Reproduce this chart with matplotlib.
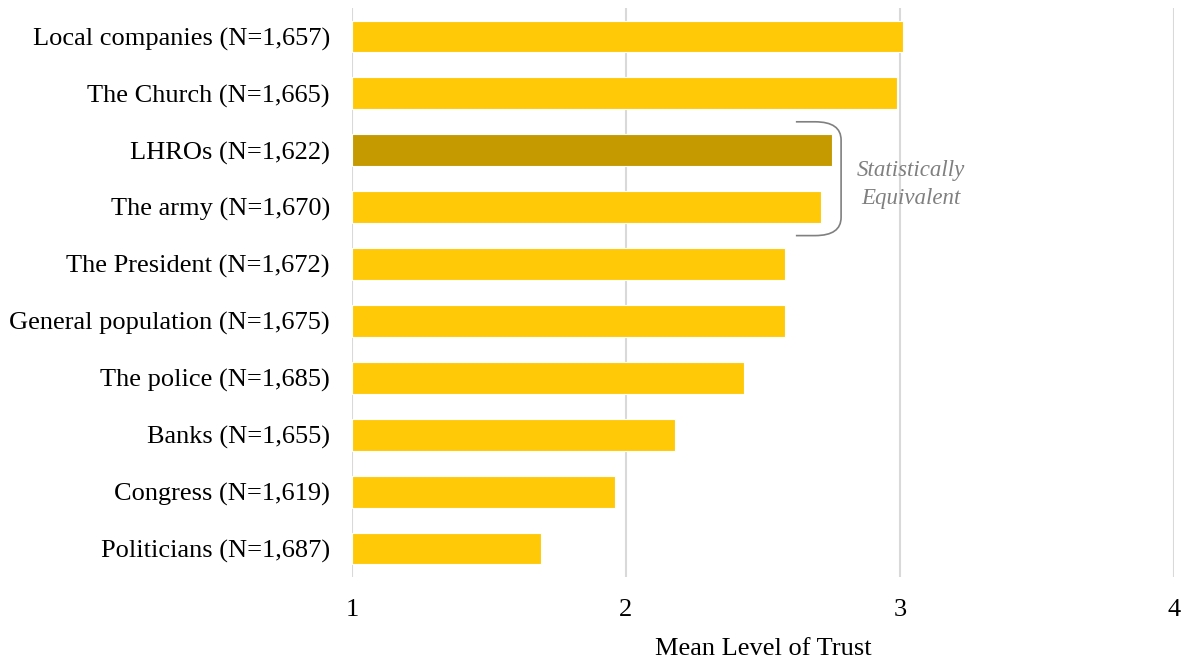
import matplotlib.pyplot as plt
from matplotlib.path import Path
from matplotlib.patches import PathPatch

plt.rcParams['font.family'] = ['Liberation Serif', 'DejaVu Serif']

# mean trust per institution, top to bottom
labels = [
    'Local companies (N=1,657)',
    'The Church (N=1,665)',
    'LHROs (N=1,622)',
    'The army (N=1,670)',
    'The President (N=1,672)',
    'General population (N=1,675)',
    'The police (N=1,685)',
    'Banks (N=1,655)',
    'Congress (N=1,619)',
    'Politicians (N=1,687)',
]
means = [3.01, 2.99, 2.75, 2.71, 2.58, 2.58, 2.43, 2.18, 1.96, 1.69]
highlight = 'LHROs (N=1,622)'
x_ticks = [1, 2, 3, 4]

fig = plt.figure(figsize=(11.81, 6.6), dpi=100)
ax = fig.add_axes([352 / 1181, 1 - 577 / 660, (1174 - 352) / 1181, (577 - 8) / 660])

colors = ['#C49A00' if l == highlight else '#FFC907' for l in labels]
ypos = list(range(len(labels)))
ax.barh(ypos, [m - 1 for m in means], left=1, height=0.56, color=colors,
        edgecolor='white', linewidth=0.8, zorder=3)

ax.set_xlim(1, 4)
ax.set_ylim(len(labels) - 0.5, -0.5)
ax.set_xticks(x_ticks)
ax.set_xticklabels([str(t) for t in x_ticks])
ax.set_yticks(ypos)
ax.set_yticklabels(labels)
ax.tick_params(axis='both', length=0, labelsize=19)
ax.tick_params(axis='x', pad=16)
ax.tick_params(axis='y', pad=16)
ax.grid(axis='x', color='#D9D9D9', linewidth=1.5, zorder=0)
ax.set_axisbelow(True)
for s in ax.spines.values():
    s.set_visible(False)

ax.set_xlabel('Mean Level of Trust', fontsize=19, labelpad=12)

# bracket around LHROs and the army
verts = [(2.62, 1.5), (2.69, 1.5), (2.785, 1.5), (2.785, 1.82),
         (2.785, 3.18), (2.785, 3.5), (2.69, 3.5), (2.62, 3.5)]
codes = [Path.MOVETO, Path.LINETO, Path.CURVE3, Path.CURVE3,
         Path.LINETO, Path.CURVE3, Path.CURVE3, Path.LINETO]
ax.add_patch(PathPatch(Path(verts, codes), facecolor='none',
                       edgecolor='#808080', linewidth=1.2, zorder=4))
ax.text(3.04, 2.6, 'Statistically\nEquivalent', ha='center', va='center',
        fontsize=16.5, style='italic', color='#808080', linespacing=1.45, zorder=4)

fig.savefig('out.png', dpi=100)
